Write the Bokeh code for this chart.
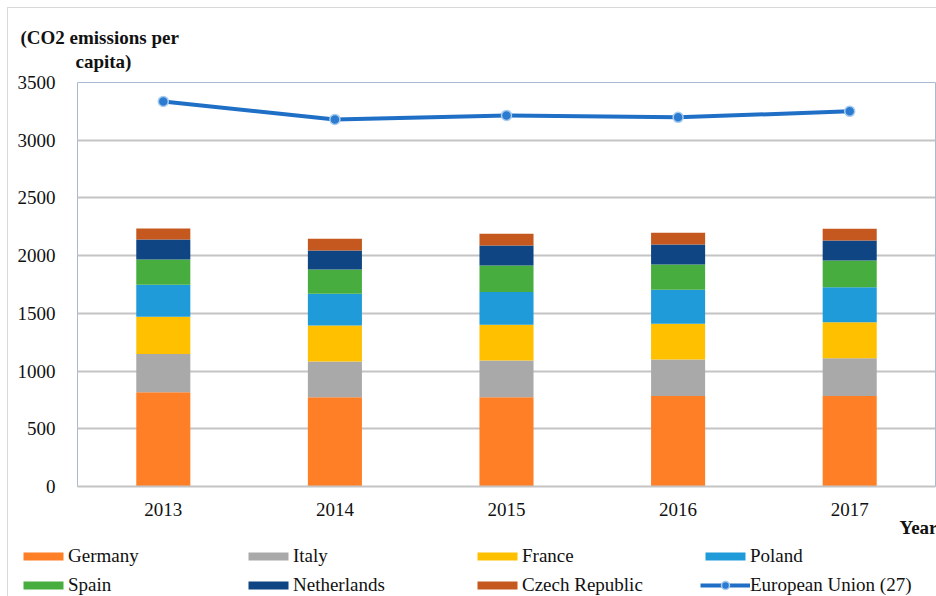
from bokeh.plotting import figure
from bokeh.layouts import column
from bokeh.models import (ColumnDataSource, Legend, LegendItem, FixedTicker, Title,
                          Range1d, FactorRange)
from bokeh.embed import file_html
from bokeh.resources import INLINE

years = ["2013", "2014", "2015", "2016", "2017"]
germany = [817, 774, 774, 783, 783]
italy = [330, 309, 318, 318, 329]
france = [323, 312, 309, 309, 312]
poland = [278, 275, 283, 294, 303]
spain = [219, 210, 231, 220, 231]
netherlands = [173, 165, 173, 173, 174]
czech = [96, 101, 102, 101, 101]
eu27 = [3336, 3180, 3215, 3198, 3250]

countries = ["Germany", "Italy", "France", "Poland", "Spain", "Netherlands", "Czech Republic"]
colors = ["#FF7F27", "#A9A9A9", "#FFC000", "#1F9BDA", "#47AD3F", "#0F4582", "#C4581E"]
y_ticks = [0, 500, 1000, 1500, 2000, 2500, 3000, 3500]
eu_label = "European Union (27)"

FONT = "Liberation Serif"
TXT = "#111111"
EU_COLOR = "#1F6FC6"

data = dict(year=years, Germany=germany, Italy=italy, France=france,
            Poland=poland, Spain=spain, Netherlands=netherlands,
            **{"Czech Republic": czech}, eu=eu27)
src = ColumnDataSource(data)

# ---------------- main chart ----------------
p = figure(width=936, height=540, x_range=FactorRange(*years), y_range=Range1d(0, 3500),
           output_backend="svg", toolbar_location=None, title="(CO2 emissions per",
           min_border_left=77, min_border_right=1, min_border_top=82, min_border_bottom=54)

p.border_fill_color = None
p.outline_line_color = "#a9b9cf"
p.outline_line_width = 1

p.vbar_stack(countries, x="year", width=0.315, source=src, color=colors, line_color=None)
p.line("year", "eu", source=src, line_width=4, line_color=EU_COLOR)
p.scatter("year", "eu", source=src, size=10, fill_color="#2B7BD0",
          line_color="#A8CBEE", line_width=1.5)

p.xgrid.grid_line_color = None
p.ygrid.grid_line_color = "#c4c4c4"
p.ygrid.grid_line_width = 2

p.yaxis.ticker = FixedTicker(ticks=y_ticks)
p.yaxis.axis_line_color = None
p.yaxis.major_tick_line_color = None
p.yaxis.major_tick_out = 0
p.yaxis.minor_tick_line_color = None
p.yaxis.major_label_standoff = 22
p.xaxis.axis_line_color = "#c4c4c4"
p.xaxis.axis_line_width = 2
p.xaxis.major_tick_line_color = None
p.xaxis.major_label_standoff = 10
for ax in (p.xaxis, p.yaxis):
    ax.major_label_text_font = FONT
    ax.major_label_text_font_size = "19px"
    ax.major_label_text_color = TXT

# y-axis title in two lines
p.title.align = "left"
p.title.offset = -57
p.title.standoff = -20
p.title.text_font = FONT
p.title.text_font_style = "bold"
p.title.text_font_size = "19px"
p.title.text_color = TXT
p.add_layout(Title(text="capita)", align="left", offset=-2, standoff=22,
                   text_font=FONT, text_font_style="bold", text_font_size="19px",
                   text_color=TXT), "above")

# x-axis title
p.add_layout(Title(text="Year", align="right", offset=-2, standoff=-7,
                   text_font=FONT, text_font_style="bold", text_font_size="19px",
                   text_color=TXT), "below")

# ---------------- legend strip ----------------
lg = figure(width=936, height=56, x_range=FactorRange(*years), y_range=Range1d(5000, 6000),
            output_backend="svg", toolbar_location=None, x_axis_type=None, y_axis_type=None,
            min_border=0, outline_line_color=None)
lg.border_fill_color = None
lg.background_fill_color = None
offset_x = 0
if "frame_align" in lg.properties():
    lg.frame_align = False
else:
    offset_x = -77
lg.grid.visible = False
lbars = lg.vbar_stack(countries, x="year", width=0.3, source=src, color=colors,
                      line_color=None, visible=False)
lline = lg.line("year", "eu", source=src, line_width=4, line_color=EU_COLOR, visible=False)
lpts = lg.scatter("year", "eu", source=src, size=10, fill_color="#2B7BD0",
                  line_color="#A8CBEE", line_width=1.5, visible=False)

items = [(countries[i], [lbars[i]]) for i in range(7)] + [(eu_label, [lline, lpts])]
# (left x, bottom y, items, glyph height)
groups = [
    (18, 0, [items[0], items[4]], 10),
    (243, 0, [items[1], items[5]], 10),
    (472, 0, [items[2], items[6]], 10),
    (700, 29, [items[3]], 10),
    (700, 0, [items[7]], 20),
]
for cx, cy, col, gh in groups:
    lg.add_layout(Legend(items=[LegendItem(label=l, renderers=r) for l, r in col],
                         location=(cx + offset_x, cy), orientation="vertical",
                         glyph_width=50, glyph_height=gh, label_standoff=0,
                         label_text_font=FONT, label_text_font_size="19px",
                         label_text_color=TXT, label_height=19, spacing=7,
                         padding=0, margin=0, border_line_color=None,
                         background_fill_alpha=0, inactive_fill_alpha=0))

frame_css = {
    "background-color": "white",
    "background-image": "linear-gradient(#d9d9d9, #d9d9d9), linear-gradient(#d9d9d9, #d9d9d9)",
    "background-size": "1px 100%, 100% 1px",
    "background-position": "7px 7px, 7px 7px",
    "background-repeat": "no-repeat",
}
layout = column(p, lg, spacing=0, styles=frame_css)
open("out.html", "w").write(file_html(layout, INLINE))
